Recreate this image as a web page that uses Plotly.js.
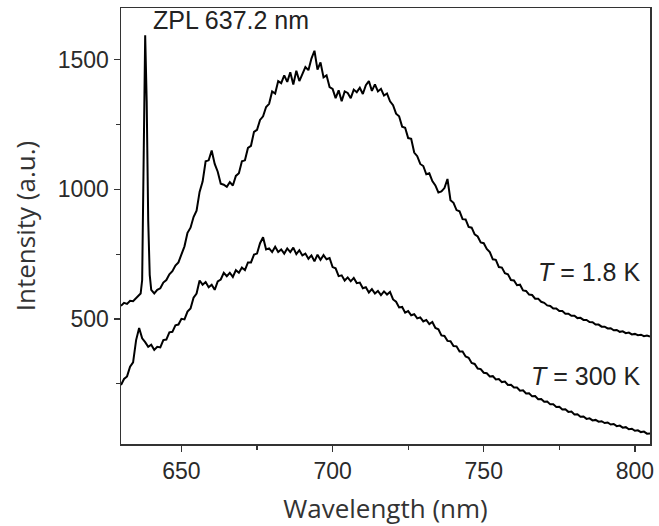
<!DOCTYPE html>
<html>
<head>
<meta charset="utf-8">
<script src="https://cdn.plot.ly/plotly-3.0.1.min.js"></script>
<style>html,body{margin:0;padding:0;background:#fff;}#chart{width:659px;height:526px;}</style>
</head>
<body>
<div id="chart"></div>
<script>
// T = 1.8 K spectrum (wavelength nm, intensity a.u.)
var wl18 = [630,631,632,633,634,635,636,636.5,637,637.5,638,638.5,639,639.5,640,641,642,643,644,645,646,647,648,649,
650,651,652,653,654,655,656,657,658,659,660,661,662,663,664,665,666,667,668,669,670,671,672,673,674,675,676,677,678,679,
680,681,682,683,684,685,686,687,688,689,690,691,692,693,694,695,696,697,698,699,700,701,702,703,704,705,706,707,708,709,
710,711,712,713,714,715,716,717,718,719,720,721,722,723,724,725,726,727,728,729,730,731,732,733,734,735,736,737,738,739,
740,741,742,743,744,745,746,747,748,749,750,751,752,753,754,755,756,757,758,759,760,761,762,763,764,765,766,767,768,769,
770,771,772,773,774,775,776,777,778,779,780,781,782,783,784,785,786,787,788,789,790,791,792,793,794,795,796,797,798,799,
800,801,802,803,804,805];
var int18 = [550,562,558,570,568,580,588,598,650,1120,1595,1340,880,670,612,598,612,618,640,650,672,684,706,718,
752,780,832,852,893,918,990,1030,1108,1112,1150,1098,1068,1022,1018,1010,1028,1015,1052,1062,1108,1112,1160,1168,1222,1230,1268,1282,1318,1330,
1378,1370,1418,1410,1440,1415,1452,1405,1458,1418,1445,1472,1460,1505,1535,1462,1490,1432,1440,1395,1388,1352,1382,1340,1378,1372,1352,1385,1375,1392,
1368,1402,1418,1380,1405,1378,1388,1362,1370,1340,1325,1292,1282,1242,1238,1198,1195,1142,1128,1098,1090,1058,1062,1032,1015,988,992,1005,1040,958,
948,920,915,885,884,855,852,826,818,795,792,770,758,730,728,700,698,676,672,650,648,630,632,610,608,594,592,578,578,566,
562,552,550,540,540,530,530,520,520,512,512,503,504,496,496,488,487,478,478,470,470,463,464,456,457,450,452,445,447,440,
442,437,439,433,436,432];

// T = 300 K spectrum
var wl300 = [630,631,632,633,634,635,636,637,638,639,640,641,642,643,644,645,646,647,648,649,
650,651,652,653,654,655,656,657,658,659,660,661,662,663,664,665,666,667,668,669,670,671,672,673,674,675,676,677,678,679,
680,681,682,683,684,685,686,687,688,689,690,691,692,693,694,695,696,697,698,699,700,701,702,703,704,705,706,707,708,709,
710,711,712,713,714,715,716,717,718,719,720,721,722,723,724,725,726,727,728,729,730,731,732,733,734,735,736,737,738,739,
740,741,742,743,744,745,746,747,748,749,750,751,752,753,754,755,756,757,758,759,760,761,762,763,764,765,766,767,768,769,
770,771,772,773,774,775,776,777,778,779,780,781,782,783,784,785,786,787,788,789,790,791,792,793,794,795,796,797,798,799,
800,801,802,803,804,805];
var int300 = [245,268,278,315,332,418,465,425,410,392,400,380,392,390,418,420,448,450,475,478,
500,498,528,540,582,598,648,632,642,622,632,612,645,652,678,665,678,662,688,678,698,688,718,718,748,752,792,815,768,772,
758,778,758,768,752,772,758,775,750,765,745,752,732,745,722,748,728,746,730,735,700,695,665,668,648,660,645,658,638,640,
618,622,602,615,598,608,592,606,594,604,575,566,544,546,524,530,514,518,502,506,490,496,480,488,465,460,436,434,415,414,
395,394,374,374,355,350,330,326,308,306,292,290,278,279,266,268,256,258,245,246,235,235,223,224,212,213,201,202,190,191,
180,181,170,170,160,161,150,151,141,142,131,132,122,123,114,116,108,110,103,105,98,100,92,94,86,88,80,82,74,76,
68,70,63,65,57,58];

var xTickVals = [650,700,750,800];
var yTickVals = [500,1000,1500];
var labels = ["ZPL 637.2 nm", "<i>T</i> = 1.8 K", "<i>T</i> = 300 K"];

var traces = [
  {x: wl18, y: int18, type: 'scatter', mode: 'lines', line: {color: '#000', width: 2}, hoverinfo: 'skip'},
  {x: wl300, y: int300, type: 'scatter', mode: 'lines', line: {color: '#000', width: 2}, hoverinfo: 'skip'}
];

var tickFont = {family: 'Liberation Sans, Arial, sans-serif', size: 23, color: '#2a2a2a'};
var titleFont = {family: 'Open Sans, sans-serif', size: 26, color: '#333'};
var labelFont = {family: 'Liberation Sans, Arial, sans-serif', size: 25, color: '#222'};
var layout = {
  width: 659, height: 526,
  margin: {l: 121, r: 9, t: 8, b: 82},
  paper_bgcolor: '#fff', plot_bgcolor: '#fff',
  showlegend: false,
  xaxis: {
    range: [630, 805], tickvals: xTickVals, ticktext: xTickVals.map(String),
    ticks: 'outside', ticklen: 6, tickwidth: 1.3, tickcolor: '#333',
    minor: {tickvals: [675, 725, 775], ticks: 'outside', ticklen: 4, tickwidth: 1.2, tickcolor: '#333'},
    showline: true, linecolor: '#333', linewidth: 1.5, mirror: true,
    showgrid: false, zeroline: false,
    tickfont: tickFont,
    title: {text: 'Wavelength (nm)', font: titleFont, standoff: 18}
  },
  yaxis: {
    range: [17, 1700], tickvals: yTickVals, ticktext: yTickVals.map(String),
    ticks: 'outside', ticklen: 6, tickwidth: 1.3, tickcolor: '#333',
    minor: {tickvals: [250, 750, 1250], ticks: 'outside', ticklen: 4, tickwidth: 1.2, tickcolor: '#333'},
    showline: true, linecolor: '#333', linewidth: 1.5, mirror: true,
    showgrid: false, zeroline: false,
    tickfont: tickFont,
    title: {text: 'Intensity (a.u.)', font: titleFont, standoff: 14}
  },
  annotations: [
    {x: 639.8, y: 1652, xref: 'x', yref: 'y', text: labels[0], showarrow: false, xanchor: 'left', yanchor: 'middle', font: labelFont},
    {x: 802.5, y: 682, xref: 'x', yref: 'y', text: labels[1], showarrow: false, xanchor: 'right', yanchor: 'middle', font: labelFont},
    {x: 802.5, y: 280, xref: 'x', yref: 'y', text: labels[2], showarrow: false, xanchor: 'right', yanchor: 'middle', font: labelFont}
  ]
};

Plotly.newPlot('chart', traces, layout, {displayModeBar: false, staticPlot: true});
</script>
</body>
</html>
